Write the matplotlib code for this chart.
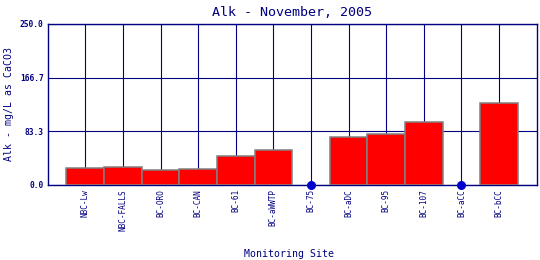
import matplotlib
matplotlib.use("Agg")
import matplotlib.pyplot as plt

sites = ["NBC-Lw", "NBC-FALLS", "BC-ORO", "BC-CAN", "BC-61", "BC-aWWTP",
         "BC-75", "BC-aDC", "BC-95", "BC-107", "BC-aCC", "BC-bCC"]
alk = [26.4, 27.5, 22.8, 24.4, 44.5, 53.9, 0.0, 74.5, 78.7, 97.3, 0.0, 126.8]
yticks = [0.0, 83.3, 166.7, 250.0]

NAVY = "#000080"
plt.rcParams["font.family"] = ["DejaVu Sans Mono"]

fig = plt.figure(figsize=(5.4, 2.6), dpi=100)
ax = fig.add_axes([0.0883, 0.2885, 0.9055, 0.6192])

x = list(range(1, len(sites) + 1))
bx = [xi for xi, v in zip(x, alk) if v > 0]
bv = [v for v in alk if v > 0]
ax.bar(bx, bv, width=1.0, color="#ff0000", edgecolor="#808080", linewidth=1.1, zorder=3)
# zero readings drawn as dots on the axis
zx = [xi for xi, v in zip(x, alk) if v == 0]
ax.scatter(zx, [0] * len(zx), s=30, color="#0000cc", zorder=4, clip_on=False)

ax.set_xlim(0, len(sites) + 1)
ax.set_ylim(0, 250)
ax.set_xticks(x)
ax.set_xticklabels(sites, rotation=90, fontsize=5.6, color=NAVY)
ax.set_yticks(yticks)
ax.set_yticklabels([f"{t:.1f}" for t in yticks], fontsize=5.7, color=NAVY, fontweight="bold")
ax.tick_params(length=0, pad=3)
ax.grid(True, color=NAVY, linewidth=0.8, zorder=0)
ax.set_axisbelow(True)
for s in ax.spines.values():
    s.set_color(NAVY)
    s.set_linewidth(1.0)

ax.set_title("Alk - November, 2005", fontsize=9.6, color=NAVY, pad=6)
ax.set_ylabel("Alk - mg/L as CaCO3", fontsize=7.1, color=NAVY, labelpad=4)
fig.text(0.536, 0.023, "Monitoring Site", fontsize=7.1, color=NAVY, ha="center", va="center")

fig.savefig("out.png", dpi=100)
